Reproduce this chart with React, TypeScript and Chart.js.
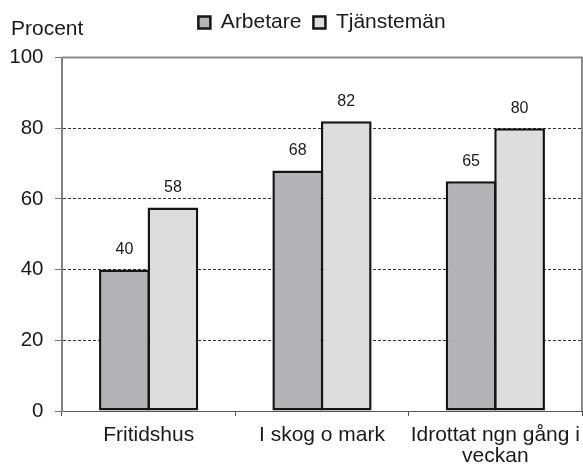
import React, { useEffect, useRef } from 'react';
import { Chart, registerables } from 'chart.js';

Chart.register(...registerables);

const categories: (string | string[])[] = ['Fritidshus', 'I skog o mark', ['Idrottat ngn gång i', 'veckan']];
const seriesNames = ['Arbetare', 'Tjänstemän'];
const arbetareValues = [40, 68, 65];
const tjanstemanValues = [57.6, 82, 80];
const yMin = 0;
const yMax = 100;
const yStep = 20;
const yAxisTitle = 'Procent';

const FONT = "'Liberation Sans', Arial, sans-serif";
const DARK_FILL = '#b3b3b5';
const LIGHT_FILL = '#dddddd';
const BAR_BORDER = '#151515';
const FRAME = '#8a8a8a';

const valueLabels = {
  id: 'valueLabels',
  afterDatasetsDraw(chart: any) {
    const ctx = chart.ctx;
    ctx.save();
    ctx.font = `16px ${FONT}`;
    ctx.fillStyle = '#1a1a1a';
    ctx.textAlign = 'center';
    ctx.textBaseline = 'middle';
    chart.data.datasets.forEach((ds: any, i: number) => {
      const meta = chart.getDatasetMeta(i);
      meta.data.forEach((bar: any, j: number) => {
        ctx.fillText(String(Math.round(ds.data[j])), bar.x, bar.y - 20);
      });
    });
    ctx.restore();
  },
};

const frameAndTitle = {
  id: 'frameAndTitle',
  afterDraw(chart: any) {
    const ctx = chart.ctx;
    const { left, top, right, bottom } = chart.chartArea;
    ctx.save();
    ctx.strokeStyle = FRAME;
    ctx.lineWidth = 2;
    ctx.beginPath();
    ctx.moveTo(left, top);
    ctx.lineTo(right, top);
    ctx.lineTo(right, bottom);
    ctx.stroke();
    ctx.font = `21px ${FONT}`;
    ctx.fillStyle = '#1a1a1a';
    ctx.textAlign = 'left';
    ctx.textBaseline = 'middle';
    ctx.fillText(yAxisTitle, chart.scales.y.left, top - 28);
    ctx.restore();
  },
};

export default function App() {
  const canvasRef = useRef<HTMLCanvasElement | null>(null);

  useEffect(() => {
    const canvas = canvasRef.current;
    if (!canvas) return;
    const chart = new Chart(canvas, {
      type: 'bar',
      data: {
        labels: categories as any,
        datasets: [
          {
            label: seriesNames[0],
            data: arbetareValues,
            backgroundColor: DARK_FILL,
            borderColor: BAR_BORDER,
            borderWidth: 2.5,
            borderSkipped: false,
            barPercentage: 1.045,
            categoryPercentage: 0.56,
          },
          {
            label: seriesNames[1],
            data: tjanstemanValues,
            backgroundColor: LIGHT_FILL,
            borderColor: BAR_BORDER,
            borderWidth: 2.5,
            borderSkipped: false,
            barPercentage: 1.045,
            categoryPercentage: 0.56,
          },
        ],
      },
      options: {
        responsive: false,
        animation: false,
        events: [],
        layout: { padding: { left: 11, right: 1, top: 0, bottom: 1 } },
        plugins: {
          tooltip: { enabled: false },
          legend: {
            display: true,
            position: 'top',
            fullSize: false,
            weight: 1000,
            labels: {
              boxWidth: 12,
              boxHeight: 12,
              padding: 12,
              color: '#1a1a1a',
              font: { family: FONT, size: 21, lineHeight: 1 },
            },
          },
          subtitle: {
            display: true,
            text: '',
            fullSize: false,
            position: 'top',
            weight: 500,
            font: { size: 1, lineHeight: 1 },
            padding: { top: 0, bottom: 13.5 },
          },
        },
        scales: {
          x: {
            offset: true,
            afterFit: (scale: any) => {
              scale.height = 56;
              scale.paddingLeft = 0;
              scale.paddingRight = 0;
            },
            grid: {
              offset: true,
              drawOnChartArea: false,
              drawTicks: true,
              tickLength: 5,
              tickColor: '#555555',
            },
            border: { display: true, color: '#555555', width: 1 },
            ticks: {
              autoSkip: false,
              maxRotation: 0,
              padding: 9,
              color: '#1a1a1a',
              font: { family: FONT, size: 21, lineHeight: 1 },
            },
          },
          y: {
            min: yMin,
            max: yMax,
            afterFit: (scale: any) => {
              scale.width = 51;
            },
            grid: {
              color: (ctx: any) => (ctx.tick && (ctx.tick.value === yMin || ctx.tick.value === yMax) ? 'rgba(0,0,0,0)' : '#333333'),
              lineWidth: 1,
              drawTicks: true,
              tickLength: 7,
              tickColor: '#777777',
              tickBorderDash: [],
            },
            border: { display: true, color: '#808080', width: 2, dash: [3, 2] },
            ticks: {
              stepSize: yStep,
              padding: 11.5,
              color: '#1a1a1a',
              font: { family: FONT, size: 20.5, lineHeight: 1 },
            },
          },
        },
      },
      plugins: [valueLabels, frameAndTitle],
    } as any);
    return () => chart.destroy();
  }, []);

  return (
    <div style={{ position: 'absolute', left: 0, top: 0, width: 583, height: 468, background: '#ffffff' }}>
      <canvas ref={canvasRef} width={583} height={468} style={{ display: 'block' }} />
    </div>
  );
}
